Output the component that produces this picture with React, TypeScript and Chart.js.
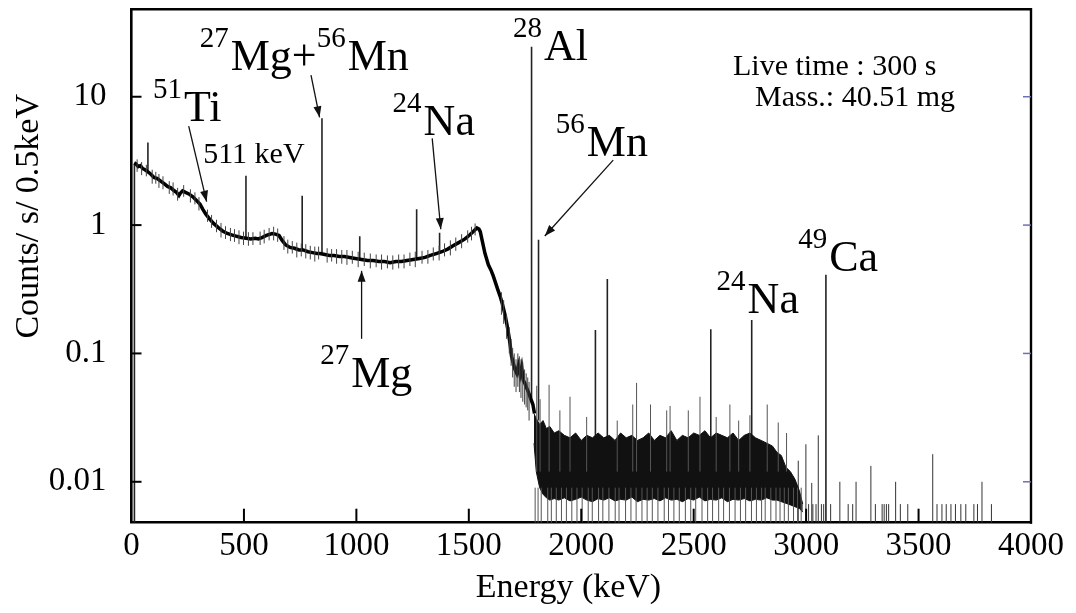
import React, { useEffect, useRef } from 'react';
import { Chart, registerables } from 'chart.js';

Chart.register(...registerables);

const SERIF = "'Liberation Serif', 'Times New Roman', serif";

// ---- spectrum continuum (energy keV, counts/s/0.5keV) ----
const contEnergy = [12, 20, 30, 40, 50, 60, 73, 85, 100, 115, 130, 145, 160, 175, 190, 200, 211, 218, 227, 240, 255, 273, 290, 305, 318, 330, 345, 365, 385, 405, 426, 445, 465, 487, 510, 530, 550, 564, 580, 600, 625, 640, 656, 670, 686, 705, 725, 745, 763, 785, 805, 825, 838, 860, 880, 900, 925, 947, 970, 995, 1023, 1050, 1075, 1100, 1125, 1150, 1176, 1200, 1225, 1253, 1280, 1305, 1329, 1355, 1380, 1406, 1430, 1455, 1483, 1505, 1520, 1536, 1545, 1551, 1560, 1572, 1587, 1600, 1609, 1620, 1630, 1639, 1650, 1661, 1669, 1676, 1683, 1690, 1697, 1705, 1713, 1720, 1728, 1735, 1742, 1750, 1757, 1765, 1772, 1785, 1792];
const contRate = [3.05, 3.0, 2.85, 2.9, 2.75, 2.7, 2.6, 2.5, 2.35, 2.3, 2.2, 2.1, 2.0, 1.95, 1.85, 1.8, 1.7, 1.78, 1.85, 1.8, 1.75, 1.66, 1.55, 1.45, 1.32, 1.22, 1.13, 1.03, 0.96, 0.9, 0.86, 0.84, 0.82, 0.8, 0.79, 0.78, 0.79, 0.78, 0.8, 0.83, 0.86, 0.85, 0.83, 0.76, 0.7, 0.67, 0.66, 0.64, 0.64, 0.62, 0.61, 0.6, 0.6, 0.59, 0.58, 0.58, 0.57, 0.57, 0.56, 0.55, 0.54, 0.53, 0.53, 0.52, 0.52, 0.51, 0.52, 0.52, 0.53, 0.54, 0.55, 0.56, 0.58, 0.6, 0.62, 0.65, 0.69, 0.73, 0.78, 0.84, 0.89, 0.95, 0.93, 0.89, 0.75, 0.6, 0.49, 0.44, 0.4, 0.35, 0.31, 0.28, 0.24, 0.2, 0.17, 0.145, 0.12, 0.095, 0.085, 0.075, 0.07, 0.08, 0.068, 0.078, 0.062, 0.058, 0.054, 0.05, 0.046, 0.04, 0.034];

// channel-to-channel scatter around the continuum
const hairEnergy = [25, 45, 66, 92, 108, 122, 140, 168, 185, 205, 232, 262, 282, 300, 338, 356, 378, 398, 418, 440, 458, 478, 498, 520, 540, 572, 590, 612, 632, 650, 678, 695, 715, 735, 755, 775, 795, 815, 832, 870, 890, 912, 935, 958, 982, 1008, 1035, 1062, 1088, 1112, 1138, 1162, 1188, 1212, 1238, 1262, 1292, 1318, 1342, 1368, 1392, 1418, 1442, 1468, 1495, 1512, 1528];
const hairLow = [2.6, 2.45, 2.4, 2.1, 2.1, 1.95, 1.9, 1.75, 1.7, 1.55, 1.66, 1.5, 1.45, 1.3, 1.06, 0.95, 0.88, 0.8, 0.78, 0.75, 0.74, 0.71, 0.7, 0.69, 0.7, 0.7, 0.72, 0.76, 0.76, 0.74, 0.64, 0.6, 0.6, 0.56, 0.57, 0.55, 0.54, 0.52, 0.54, 0.51, 0.52, 0.5, 0.5, 0.49, 0.5, 0.47, 0.48, 0.46, 0.47, 0.45, 0.46, 0.45, 0.46, 0.46, 0.48, 0.47, 0.5, 0.5, 0.53, 0.53, 0.57, 0.58, 0.63, 0.66, 0.73, 0.76, 0.83];
const hairHigh = [3.25, 3.1, 2.95, 2.7, 2.6, 2.5, 2.4, 2.2, 2.15, 1.95, 2.05, 1.9, 1.8, 1.65, 1.32, 1.2, 1.1, 1.04, 0.98, 0.95, 0.93, 0.91, 0.89, 0.88, 0.88, 0.89, 0.92, 0.95, 0.97, 0.94, 0.82, 0.77, 0.75, 0.73, 0.72, 0.71, 0.69, 0.68, 0.68, 0.66, 0.65, 0.65, 0.64, 0.64, 0.63, 0.62, 0.61, 0.6, 0.59, 0.59, 0.58, 0.58, 0.59, 0.59, 0.61, 0.62, 0.63, 0.64, 0.67, 0.69, 0.72, 0.76, 0.8, 0.85, 0.91, 0.97, 1.03];

// noise around the Compton edge fall-off
const fallEnergy = [1645, 1655, 1668, 1680, 1688, 1695, 1702, 1710, 1718, 1725, 1732, 1740, 1748, 1755, 1762, 1768];
const fallLow = [0.2, 0.17, 0.13, 0.1, 0.08, 0.065, 0.055, 0.05, 0.055, 0.05, 0.045, 0.042, 0.04, 0.038, 0.036, 0.03];
const fallHigh = [0.3, 0.26, 0.2, 0.16, 0.13, 0.11, 0.1, 0.09, 0.1, 0.095, 0.09, 0.085, 0.075, 0.07, 0.065, 0.06];

// dense noisy band above 1.8 MeV
const bandEnergy = [1790, 1800, 1815, 1830, 1845, 1860, 1880, 1900, 1925, 1950, 1975, 2000, 2025, 2050, 2075, 2100, 2125, 2150, 2175, 2200, 2225, 2250, 2275, 2300, 2325, 2350, 2375, 2400, 2425, 2450, 2475, 2500, 2525, 2550, 2575, 2600, 2625, 2650, 2675, 2700, 2725, 2750, 2775, 2800, 2825, 2850, 2870, 2890, 2910, 2930, 2950, 2970, 2985];
const bandUpper = [0.034, 0.031, 0.028, 0.03, 0.026, 0.027, 0.024, 0.025, 0.023, 0.022, 0.024, 0.021, 0.023, 0.022, 0.024, 0.022, 0.023, 0.021, 0.024, 0.022, 0.023, 0.021, 0.022, 0.024, 0.021, 0.023, 0.022, 0.025, 0.021, 0.023, 0.022, 0.024, 0.023, 0.025, 0.022, 0.024, 0.023, 0.022, 0.024, 0.021, 0.023, 0.024, 0.022, 0.021, 0.02, 0.019, 0.017, 0.016, 0.013, 0.012, 0.0105, 0.0085, 0.0067];
const bandLower = [0.02, 0.012, 0.009, 0.008, 0.0075, 0.0072, 0.0074, 0.0072, 0.0075, 0.0071, 0.0073, 0.0076, 0.0072, 0.007, 0.0074, 0.0072, 0.0075, 0.0071, 0.0073, 0.0072, 0.0076, 0.007, 0.0073, 0.0072, 0.0074, 0.0071, 0.0075, 0.0072, 0.0073, 0.007, 0.0074, 0.0072, 0.0076, 0.0071, 0.0073, 0.0072, 0.0075, 0.007, 0.0073, 0.0072, 0.0074, 0.0071, 0.0073, 0.0072, 0.0075, 0.0072, 0.0072, 0.007, 0.0068, 0.0066, 0.0064, 0.0062, 0.0058];

// channels dropping to zero counts inside the band
const dipEnergy = [1795, 1808, 1822, 1851, 1867, 1889, 1912, 1934, 1958, 1981, 2004, 2031, 2049, 2077, 2096, 2123, 2151, 2168, 2197, 2221, 2244, 2270, 2293, 2316, 2341, 2369, 2388, 2412, 2436, 2463, 2487, 2509, 2537, 2562, 2584, 2611, 2633, 2659, 2684, 2708, 2731, 2757, 2779, 2802, 2818, 2843, 2866, 2884, 2903, 2921, 2944, 2962, 2978];

// noise spikes rising above the band
const spikeEnergy = [1802, 1817, 1857, 1905, 1950, 2024, 2160, 2229, 2246, 2308, 2380, 2395, 2476, 2528, 2600, 2661, 2700, 2750, 2827, 2876, 2913];
const spikeTop = [0.056, 0.044, 0.057, 0.036, 0.046, 0.032, 0.03, 0.04, 0.059, 0.04, 0.036, 0.039, 0.036, 0.046, 0.032, 0.04, 0.03, 0.033, 0.04, 0.029, 0.024];

// isolated channels in the high-energy tail
const tailEnergy = [2965, 2999, 3011, 3025, 3030, 3044, 3054, 3068, 3078, 3109, 3150, 3187, 3207, 3222, 3288, 3308, 3338, 3347, 3357, 3367, 3398, 3419, 3452, 3563, 3582, 3604, 3623, 3644, 3664, 3688, 3710, 3746, 3762, 3782, 3824];
const tailTop = [0.0146, 0.0196, 0.0067, 0.0098, 0.0067, 0.0067, 0.023, 0.0067, 0.0067, 0.0067, 0.01, 0.0067, 0.0067, 0.01, 0.0133, 0.0067, 0.0067, 0.0067, 0.0067, 0.0067, 0.01, 0.0067, 0.0067, 0.0164, 0.0067, 0.0067, 0.0067, 0.0067, 0.0067, 0.0067, 0.0067, 0.0067, 0.0067, 0.01, 0.0067];

// photopeaks (first entry: low-energy threshold edge of the spectrum)
const peakEnergy = [13, 73, 509, 759, 847, 1015, 1268, 1370, 1779, 1810, 2063, 2116, 2576, 2758, 3088];
const peakTop = [3.0, 4.4, 2.42, 1.69, 6.8, 0.82, 1.33, 0.87, 24.5, 0.77, 0.152, 0.38, 0.154, 0.182, 0.41];
const peakBase = [0.0048, 2.6, 0.8, 0.64, 0.6, 0.54, 0.54, 0.6, 0.045, 0.03, 0.015, 0.015, 0.015, 0.015, 0.0048];

// axes
const xTickValues = [0, 500, 1000, 1500, 2000, 2500, 3000, 3500, 4000];
const xTickLabels = ['0', '500', '1000', '1500', '2000', '2500', '3000', '3500', '4000'];
const yTickValues = [0.01, 0.1, 1, 10];
const yTickLabels = ['0.01', '0.1', '1', '10'];
const xTitle = 'Energy (keV)';
const yTitle = 'Counts/ s/ 0.5keV';

// nuclide labels (^{n} = mass number superscript), anchored in data coords
const nuclideLabels = ['^{51}Ti', '^{27}Mg+^{56}Mn', '^{24}Na', '^{28}Al', '^{56}Mn', '^{49}Ca', '^{24}Na', '^{27}Mg'];
const nuclideEnergy = [95.6, 303.3, 1161.1, 1696, 1886.8, 2965, 2602, 839.1];
const nuclideRate = [6.46, 16.11, 5.03, 19.28, 3.45, 0.442, 0.206, 0.0548];

const noteLabels = ['511 keV', 'Live time : 300 s', 'Mass.: 40.51 mg'];
const noteEnergy = [318.8, 2674.8, 2772.6];
const noteRate = [3.045, 14.73, 8.46];

const arrowFromEnergy = [254.4, 798.2, 1337.2, 2142.1, 1023.2];
const arrowFromRate = [5.91, 14.73, 4.74, 3.21, 0.13];
const arrowToEnergy = [334.0, 836.4, 1375.4, 1837.9, 1023.2];
const arrowToRate = [1.522, 6.91, 0.929, 0.823, 0.44];

const BOTTOM = 0.0048;

function segs(es: number[], lo: (i: number) => number, hi: (i: number) => number) {
  const out: any[] = [];
  es.forEach((e, i) => {
    out.push({ x: e, y: lo(i) }, { x: e, y: hi(i) }, { x: e, y: null });
  });
  return out;
}

function drawArrow(ctx: CanvasRenderingContext2D, x1: number, y1: number, x2: number, y2: number) {
  ctx.beginPath();
  ctx.moveTo(x1, y1);
  ctx.lineTo(x2, y2);
  ctx.stroke();
  const ang = Math.atan2(y2 - y1, x2 - x1);
  const L = 11, W = 4;
  ctx.beginPath();
  ctx.moveTo(x2, y2);
  ctx.lineTo(x2 - L * Math.cos(ang) + W * Math.sin(ang), y2 - L * Math.sin(ang) - W * Math.cos(ang));
  ctx.lineTo(x2 - L * Math.cos(ang) - W * Math.sin(ang), y2 - L * Math.sin(ang) + W * Math.cos(ang));
  ctx.closePath();
  ctx.fill();
}

const decor = {
  id: 'decor',
  afterDraw(chart: any) {
    const { ctx, chartArea: a, scales } = chart;
    const xs = scales.x, ys = scales.y;
    ctx.save();
    ctx.strokeStyle = '#000';
    ctx.fillStyle = '#000';
    // frame top / right
    ctx.lineWidth = 2.4;
    ctx.beginPath();
    ctx.moveTo(a.left - 1, a.top);
    ctx.lineTo(a.right, a.top);
    ctx.lineTo(a.right, a.bottom + 1);
    ctx.stroke();
    // inward ticks
    ctx.lineWidth = 2;
    yTickValues.forEach((v) => {
      const py = ys.getPixelForValue(v);
      ctx.beginPath();
      ctx.moveTo(a.left, py);
      ctx.lineTo(a.left + 10, py);
      ctx.stroke();
    });
    xTickValues.forEach((v) => {
      if (v === xs.min || v === xs.max) return;
      const px = xs.getPixelForValue(v);
      ctx.beginPath();
      ctx.moveTo(px, a.bottom);
      ctx.lineTo(px, a.bottom - 14);
      ctx.stroke();
    });
    ctx.strokeStyle = '#7070b0';
    ctx.lineWidth = 1.5;
    yTickValues.forEach((v) => {
      const py = ys.getPixelForValue(v);
      ctx.beginPath();
      ctx.moveTo(a.right, py);
      ctx.lineTo(a.right - 8, py);
      ctx.stroke();
    });
    // nuclide labels
    ctx.fillStyle = '#000';
    ctx.textBaseline = 'alphabetic';
    ctx.textAlign = 'left';
    nuclideLabels.forEach((lab, i) => {
      let cx = xs.getPixelForValue(nuclideEnergy[i]);
      const by = ys.getPixelForValue(nuclideRate[i]);
      const parts = lab.split(/\^\{(\d+)\}/);
      parts.forEach((p, k) => {
        if (!p) return;
        const sup = k % 2 === 1;
        ctx.font = `${sup ? 29 : 44}px ${SERIF}`;
        ctx.fillText(p, cx, sup ? by - 23 : by);
        cx += ctx.measureText(p).width + (sup ? 2 : 0);
      });
    });
    ctx.font = `30px ${SERIF}`;
    noteLabels.forEach((t, i) => {
      ctx.fillText(t, xs.getPixelForValue(noteEnergy[i]), ys.getPixelForValue(noteRate[i]));
    });
    // arrows
    ctx.strokeStyle = '#111';
    ctx.fillStyle = '#111';
    ctx.lineWidth = 1.3;
    arrowFromEnergy.forEach((e, i) => {
      drawArrow(ctx, xs.getPixelForValue(e), ys.getPixelForValue(arrowFromRate[i]),
        xs.getPixelForValue(arrowToEnergy[i]), ys.getPixelForValue(arrowToRate[i]));
    });
    // axis titles
    ctx.fillStyle = '#000';
    ctx.font = `34px ${SERIF}`;
    ctx.textAlign = 'center';
    ctx.fillText(xTitle, a.left + 437, a.bottom + 74);
    ctx.translate(38, a.top + 207);
    ctx.rotate(-Math.PI / 2);
    ctx.fillText(yTitle, 0, 0);
    ctx.restore();
  },
};

export default function App() {
  const ref = useRef<HTMLCanvasElement | null>(null);
  useEffect(() => {
    if (!ref.current) return;
    const line = (data: any[], color: string, width: number, extra: any = {}) => ({
      data, borderColor: color, borderWidth: width, pointRadius: 0, fill: false, tension: 0, spanGaps: false, ...extra,
    });
    const chart = new Chart(ref.current, {
      type: 'line',
      data: {
        datasets: [
          line(segs(dipEnergy, () => BOTTOM, () => 0.009), '#555', 1),
          line(segs(spikeEnergy, () => 0.012, (i) => spikeTop[i]), '#555', 1),
          line(bandEnergy.map((e, i) => ({ x: e, y: bandUpper[i] })), '#111', 1, { fill: '+1', backgroundColor: '#111' }),
          line(bandEnergy.map((e, i) => ({ x: e, y: bandLower[i] })), '#111', 1),
          line(segs(tailEnergy, () => BOTTOM, (i) => tailTop[i]), '#333', 1),
          line(segs(fallEnergy, (i) => fallLow[i], (i) => fallHigh[i]), '#444', 1),
          line(segs(hairEnergy, (i) => hairLow[i], (i) => hairHigh[i]), '#444', 1),
          line(contEnergy.map((e, i) => ({ x: e, y: contRate[i] })), '#000', 3.5),
          line(segs(peakEnergy, (i) => peakBase[i], (i) => peakTop[i]), '#222', 1.6),
        ],
      },
      options: {
        responsive: false,
        animation: false,
        devicePixelRatio: 1,
        events: [],
        layout: { padding: { top: 9.3, right: 45, left: 0, bottom: 0 } },
        plugins: { legend: { display: false }, tooltip: { enabled: false }, title: { display: false } },
        scales: {
          x: {
            type: 'linear', min: 0, max: 4000,
            grid: { display: false, drawTicks: false },
            border: { display: true, color: '#000', width: 2.6 },
            ticks: {
              font: { family: SERIF, size: 33 }, color: '#000', padding: 4, maxRotation: 0, autoSkip: false,
              callback: (v: any) => { const k = xTickValues.indexOf(Number(v)); return k >= 0 ? xTickLabels[k] : ''; },
            },
            afterBuildTicks: (s: any) => { s.ticks = xTickValues.map((v) => ({ value: v })); },
            afterFit: (s: any) => { s.height = 90.3; s.paddingLeft = 0; s.paddingRight = 0; },
          },
          y: {
            type: 'logarithmic', min: BOTTOM, max: 48,
            grid: { display: false, drawTicks: false },
            border: { display: true, color: '#000', width: 2.6 },
            ticks: {
              font: { family: SERIF, size: 33 }, color: '#000', padding: 25, autoSkip: false,
              callback: (v: any) => { const k = yTickValues.indexOf(Number(v)); return k >= 0 ? yTickLabels[k] : ''; },
            },
            afterBuildTicks: (s: any) => { s.ticks = yTickValues.map((v) => ({ value: v })); },
            afterFit: (s: any) => { s.width = 131.5; s.paddingTop = 0; s.paddingBottom = 0; },
          },
        },
      },
      plugins: [decor],
    } as any);
    return () => chart.destroy();
  }, []);
  return (
    <div style={{ position: 'absolute', left: 0, top: 0, width: 1076, height: 613, background: '#fff' }}>
      <canvas ref={ref} width={1076} height={613} style={{ width: 1076, height: 613, display: 'block' }} />
    </div>
  );
}
